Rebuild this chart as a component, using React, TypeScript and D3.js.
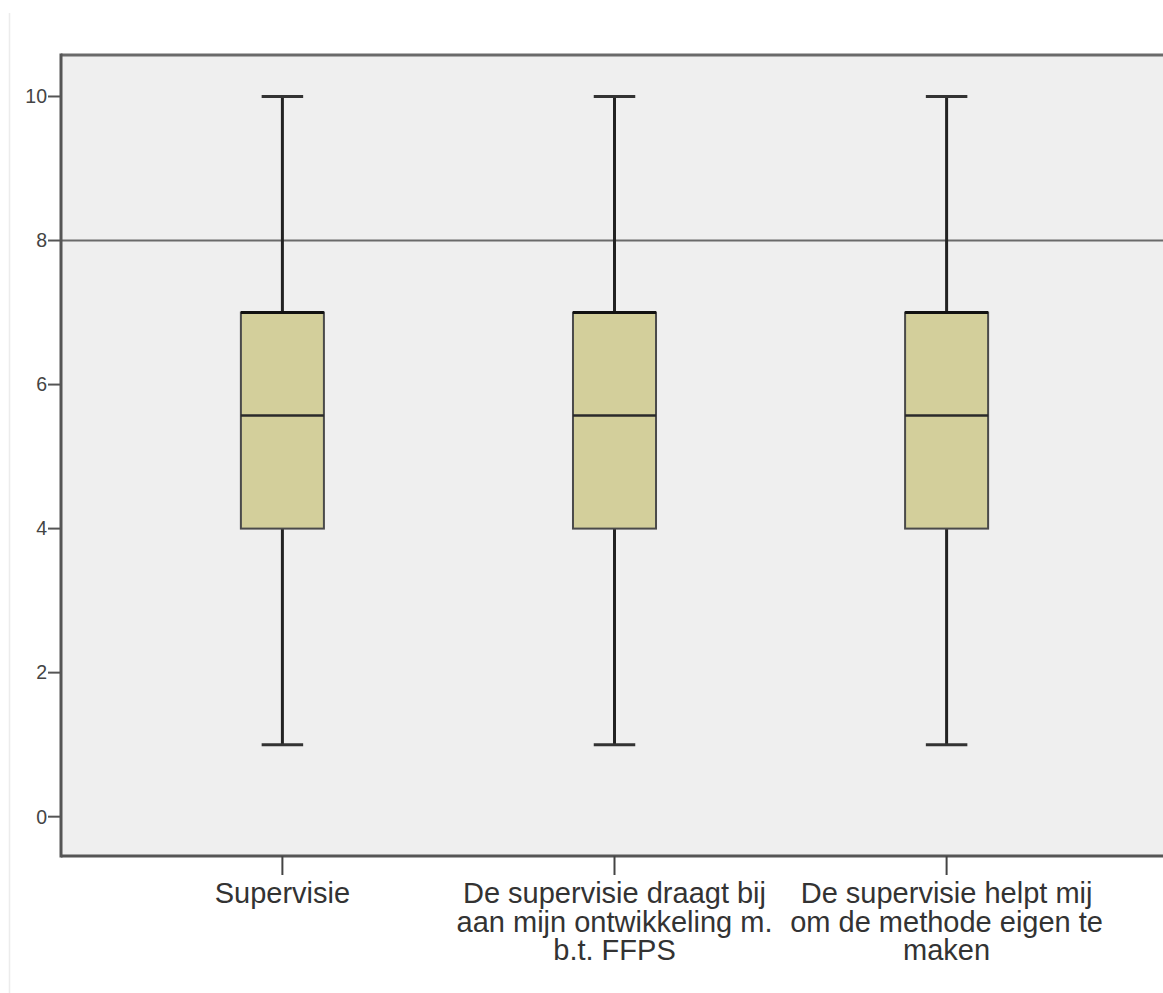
import React from "react";
import * as d3 from "d3";

const categories = ["Supervisie", "De supervisie draagt bij aan mijn ontwikkeling m. b.t. FFPS", "De supervisie helpt mij om de methode eigen te maken"];
const labelLines = [
  ["Supervisie"],
  ["De supervisie draagt bij", "aan mijn ontwikkeling m.", "b.t. FFPS"],
  ["De supervisie helpt mij", "om de methode eigen te", "maken"],
];
const mins = [1, 1, 1];
const q1s = [4, 4, 4];
const medians = [5.57, 5.57, 5.57];
const q3s = [7, 7, 7];
const maxs = [10, 10, 10];
const yTicks = [0, 2, 4, 6, 8, 10];
const referenceValue = 8;

const W = 1163;
const H = 993;
const left = 61;
const right = 1168;
const top = 55;
const bottom = 856;

export default function App() {
  const x = d3.scalePoint<string>().domain(categories).range([left, right]).padding(2 / 3);
  const y = d3.scaleLinear().domain([-0.546, 10.576]).range([bottom, top]);
  const step = x.step();
  const boxW = step * 0.25;
  const capW = boxW / 2;
  const font = "'Liberation Sans', Arial, sans-serif";

  return (
    <svg width={W} height={H} style={{ position: "absolute", left: 0, top: 0, background: "#fff" }}>
      <line x1={9.5} x2={9.5} y1={13} y2={H} stroke="#ececec" strokeWidth={1.5} />
      <rect x={left} y={top} width={right - left} height={bottom - top} fill="#efefef" />
      {/* reference line */}
      <line x1={left} x2={right} y1={y(referenceValue)} y2={y(referenceValue)} stroke="#6a6a6a" strokeWidth={2} />
      {categories.map((c, i) => {
        const cx = x(c)!;
        return (
          <g key={c}>
            <line x1={cx} x2={cx} y1={y(maxs[i])} y2={y(q3s[i])} stroke="#222" strokeWidth={3} />
            <line x1={cx} x2={cx} y1={y(q1s[i])} y2={y(mins[i])} stroke="#222" strokeWidth={3} />
            <line x1={cx - capW / 2} x2={cx + capW / 2} y1={y(maxs[i])} y2={y(maxs[i])} stroke="#333" strokeWidth={3} />
            <line x1={cx - capW / 2} x2={cx + capW / 2} y1={y(mins[i])} y2={y(mins[i])} stroke="#333" strokeWidth={3} />
            <rect x={cx - boxW / 2} y={y(q3s[i])} width={boxW} height={y(q1s[i]) - y(q3s[i])} fill="#d3cf9b" stroke="#4a4a4a" strokeWidth={2} />
            <line x1={cx - boxW / 2} x2={cx + boxW / 2} y1={y(q3s[i])} y2={y(q3s[i])} stroke="#111" strokeWidth={3} />
            <line x1={cx - boxW / 2} x2={cx + boxW / 2} y1={y(medians[i])} y2={y(medians[i])} stroke="#2a2a2a" strokeWidth={2.5} />
          </g>
        );
      })}
      {/* axes frame */}
      <line x1={left} x2={right} y1={top} y2={top} stroke="#6a6a6a" strokeWidth={3} />
      <line x1={left} x2={right} y1={bottom} y2={bottom} stroke="#555" strokeWidth={3} />
      <line x1={left} x2={left} y1={top - 1.5} y2={bottom + 1.5} stroke="#555" strokeWidth={3} />
      {yTicks.map((t) => (
        <g key={t}>
          <line x1={left - 13} x2={left} y1={y(t)} y2={y(t)} stroke="#555" strokeWidth={2} />
          <text x={47} y={y(t)} dy="0.35em" textAnchor="end" fontFamily={font} fontSize={19.5} fill="#444">
            {t}
          </text>
        </g>
      ))}
      {categories.map((c, i) => {
        const cx = x(c)!;
        return (
          <g key={c}>
            <line x1={cx} x2={cx} y1={bottom} y2={bottom + 19} stroke="#444" strokeWidth={2} />
            {labelLines[i].map((ln, j) => (
              <text key={j} x={cx} y={903 + j * 28.5} textAnchor="middle" fontFamily={font} fontSize={29} fill="#333">
                {ln}
              </text>
            ))}
          </g>
        );
      })}
    </svg>
  );
}
